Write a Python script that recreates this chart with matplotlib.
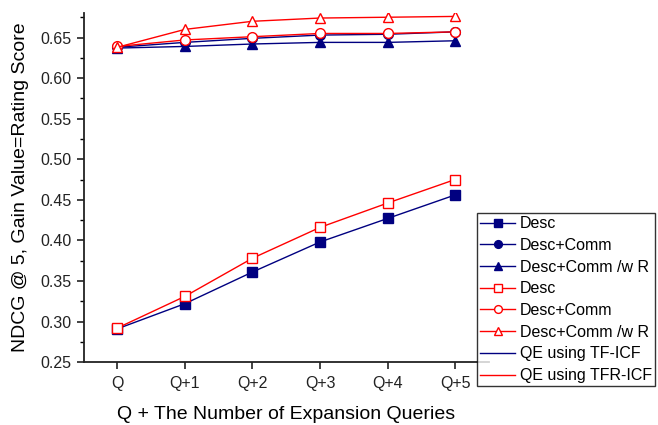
import matplotlib
matplotlib.use("Agg")
import matplotlib.pyplot as plt
from matplotlib.ticker import MultipleLocator

plt.rcParams["font.family"] = ["Liberation Sans", "DejaVu Sans"]

# ─── data ────────────────────────────────────────────────────────────────
steps = ["Q", "Q+1", "Q+2", "Q+3", "Q+4", "Q+5"]

tf_desc = [0.291, 0.322, 0.361, 0.398, 0.427, 0.456]
tf_desc_comm = [0.638, 0.644, 0.649, 0.653, 0.654, 0.657]
tf_desc_comm_r = [0.637, 0.639, 0.642, 0.644, 0.644, 0.646]

tfr_desc = [0.292, 0.331, 0.378, 0.416, 0.446, 0.475]
tfr_desc_comm = [0.639, 0.647, 0.651, 0.655, 0.655, 0.657]
tfr_desc_comm_r = [0.638, 0.660, 0.670, 0.674, 0.675, 0.676]

BLUE = "#000080"
RED = "#ff0000"

fig = plt.figure(figsize=(6.58, 4.25), dpi=100)
ax = fig.add_axes([0.127, 0.148, 0.616, 0.821])
x = list(range(len(steps)))

ms = 7
h1, = ax.plot(x, tf_desc, color=BLUE, lw=1, marker="s", ms=ms, mfc=BLUE, mec=BLUE)
h2, = ax.plot(x, tf_desc_comm, color=BLUE, lw=1, marker="o", ms=ms, mfc=BLUE, mec=BLUE)
h3, = ax.plot(x, tf_desc_comm_r, color=BLUE, lw=1, marker="^", ms=ms + 0.5, mfc=BLUE, mec=BLUE)
h4, = ax.plot(x, tfr_desc, color=RED, lw=1, marker="s", ms=ms, mfc="white", mec=RED)
h5, = ax.plot(x, tfr_desc_comm, color=RED, lw=1, marker="o", ms=ms, mfc="white", mec=RED)
h6, = ax.plot(x, tfr_desc_comm_r, color=RED, lw=1, marker="^", ms=ms + 0.5, mfc="white", mec=RED)
h7, = ax.plot([], [], color=BLUE, lw=1)
h8, = ax.plot([], [], color=RED, lw=1)

ax.set_xlim(-0.5, 5.5)
ax.set_ylim(0.25, 0.68)
ax.set_xticks(x)
ax.set_xticklabels(steps)
ax.yaxis.set_major_locator(MultipleLocator(0.05))
ax.yaxis.set_minor_locator(MultipleLocator(0.025))
ax.yaxis.set_major_formatter(matplotlib.ticker.FormatStrFormatter("%.2f"))

for side in ("top", "right"):
    ax.spines[side].set_visible(False)
for side in ("left", "bottom"):
    ax.spines[side].set_linewidth(1.3)
    ax.spines[side].set_color("#222222")
ax.tick_params(axis="both", which="major", direction="out", length=5, width=1.2,
               labelsize=11.5, colors="#222222")
ax.tick_params(axis="y", which="minor", direction="out", length=3, width=1.0)
ax.tick_params(axis="x", pad=5)

ax.set_xlabel("Q + The Number of Expansion Queries", fontsize=14, labelpad=11)
ax.set_ylabel("NDCG @ 5, Gain Value=Rating Score", fontsize=14, labelpad=8)

leg = fig.legend(
    [h1, h2, h3, h4, h5, h6, h7, h8],
    ["Desc", "Desc+Comm", "Desc+Comm /w R", "Desc", "Desc+Comm",
     "Desc+Comm /w R", "QE using TF-ICF", "QE using TFR-ICF"],
    loc="upper left", bbox_to_anchor=(477 / 658, 1 - 213 / 425),
    frameon=True, fancybox=False, fontsize=11.5, labelspacing=0.42,
    handlelength=2.2, handletextpad=0.3, borderaxespad=0, borderpad=0.2,
    markerscale=0.8,
)
leg.get_frame().set_edgecolor("black")
leg.get_frame().set_linewidth(1.0)

fig.savefig("out.png", dpi=100)
